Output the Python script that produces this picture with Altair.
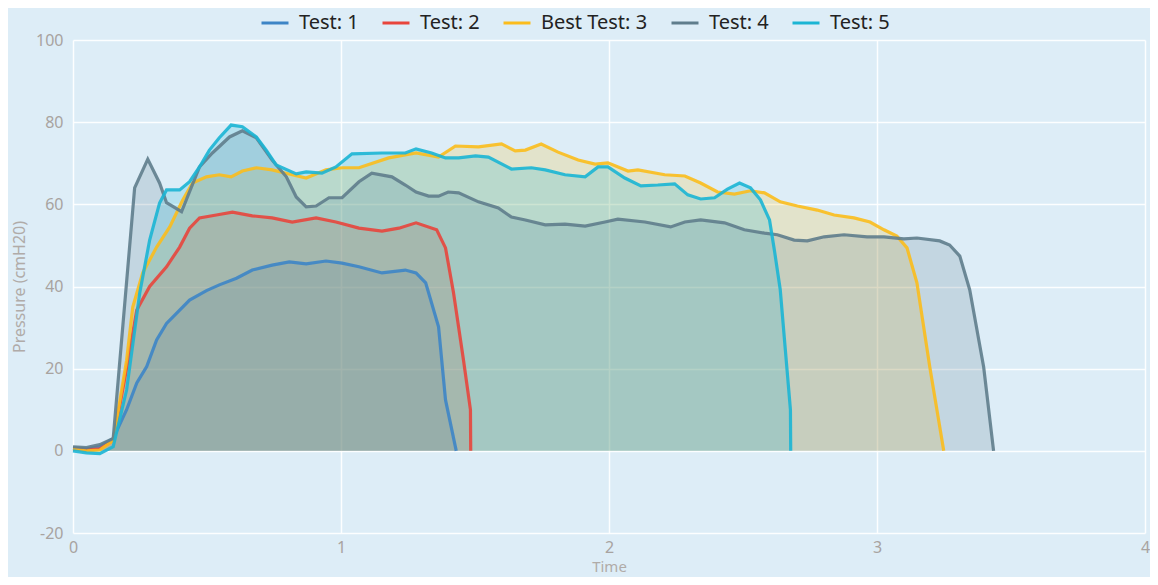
import altair as alt
import pandas as pd

names = ["Test: 1", "Test: 2", "Best Test: 3", "Test: 4", "Test: 5"]
colors = ["#3d85c6", "#e8453c", "#fbbc1c", "#5f7d8c", "#1bb5d4"]

t1 = [0, 0.05, 0.1, 0.15, 0.2, 0.238, 0.275, 0.312, 0.349, 0.387, 0.435, 0.498, 0.546, 0.61, 0.669, 0.743,
      0.807, 0.87, 0.944, 1.004, 1.067, 1.153, 1.24, 1.28, 1.316, 1.364, 1.39, 1.43]
v1 = [0.7, 0.5, 1.0, 3.0, 10, 16.5, 20.5, 27, 31, 33.5, 36.7, 39, 40.4, 42, 44, 45.2,
      46, 45.5, 46.2, 45.7, 44.8, 43.3, 44, 43.3, 40.9, 30.2, 12.4, 0]

t2 = [0, 0.05, 0.1, 0.15, 0.2, 0.238, 0.286, 0.349, 0.398, 0.435, 0.472, 0.535, 0.595, 0.669, 0.743, 0.818,
      0.907, 0.981, 1.067, 1.153, 1.216, 1.28, 1.357, 1.39, 1.42, 1.457, 1.483, 1.484]
v2 = [0.5, 0.3, 0.5, 2.5, 20, 34.3, 40, 44.8, 49.6, 54.2, 56.7, 57.4, 58.1, 57.2, 56.7, 55.7,
      56.7, 55.7, 54.2, 53.5, 54.2, 55.5, 53.8, 49.4, 38.4, 22.1, 10, 0]

t3 = [0, 0.05, 0.1, 0.15, 0.2, 0.223, 0.26, 0.312, 0.361, 0.409, 0.446, 0.498, 0.546, 0.59, 0.632, 0.684,
      0.743, 0.818, 0.87, 0.944, 1.004, 1.067, 1.178, 1.28, 1.364, 1.427, 1.513, 1.599, 1.65, 1.688, 1.747,
      1.81, 1.885, 1.948, 1.996, 2.071, 2.108, 2.208, 2.283, 2.342, 2.405, 2.468, 2.528, 2.58, 2.639, 2.703,
      2.777, 2.84, 2.914, 2.974, 3.026, 3.074, 3.112, 3.149, 3.197, 3.249]
v3 = [0.5, 0, 0.2, 2.5, 22, 35, 43.3, 49.6, 54.5, 61, 65.2, 66.7, 67.2, 66.7, 68.1, 68.9,
      68.4, 67.2, 66.4, 68.4, 68.9, 68.9, 71.3, 72.5, 71.5, 74.2, 74, 74.7, 73, 73.2, 74.7,
      72.7, 70.8, 69.8, 70.1, 68.1, 68.4, 67.2, 66.9, 65.2, 63, 62.5, 63.3, 62.8, 60.6, 59.6,
      58.6, 57.4, 56.7, 55.7, 53.8, 52.3, 49.4, 40.9, 20.4, 0]

t4 = [0, 0.05, 0.1, 0.15, 0.23, 0.279, 0.323, 0.349, 0.405, 0.472, 0.52, 0.584, 0.632, 0.684, 0.743, 0.796,
      0.833, 0.87, 0.907, 0.955, 1.004, 1.067, 1.115, 1.19, 1.24, 1.28, 1.327, 1.364, 1.40, 1.439, 1.513,
      1.587, 1.636, 1.688, 1.762, 1.836, 1.911, 1.985, 2.033, 2.134, 2.23, 2.283, 2.342, 2.431, 2.505, 2.58,
      2.628, 2.691, 2.74, 2.803, 2.877, 2.963, 3.026, 3.1, 3.149, 3.234, 3.271, 3.309, 3.346, 3.398, 3.435]
v4 = [1.0, 0.8, 1.5, 3, 64, 71, 65.2, 60.4, 58.2, 69.1, 72.5, 76.4, 77.9, 76.2, 70.8, 66.7,
      61.8, 59.4, 59.6, 61.6, 61.6, 65.5, 67.6, 66.7, 64.7, 63, 62, 62, 63, 62.8, 60.6,
      59.1, 56.9, 56.2, 55, 55.2, 54.7, 55.7, 56.4, 55.7, 54.5, 55.7, 56.2, 55.5, 53.8, 53,
      52.6, 51.3, 51.1, 52.1, 52.6, 52.1, 52.1, 51.6, 51.8, 51.1, 50.1, 47.4, 39.2, 20.4, 0]

t5 = [0, 0.05, 0.1, 0.15, 0.2, 0.249, 0.286, 0.323, 0.349, 0.398, 0.435, 0.472, 0.509, 0.546, 0.59, 0.632,
      0.684, 0.721, 0.758, 0.833, 0.87, 0.929, 0.981, 1.041, 1.153, 1.24, 1.28, 1.338, 1.39, 1.439, 1.502,
      1.55, 1.636, 1.71, 1.762, 1.836, 1.911, 1.959, 1.996, 2.059, 2.119, 2.182, 2.245, 2.294, 2.342, 2.394,
      2.442, 2.487, 2.528, 2.565, 2.599, 2.617, 2.639, 2.658, 2.677, 2.678]
v5 = [0, -0.5, -0.7, 1, 14.8, 38.4, 51.3, 60.3, 63.5, 63.5, 65.5, 69.1, 73.2, 76.2, 79.3, 78.9,
      76.4, 73.2, 69.6, 67.4, 67.9, 67.6, 69.1, 72.3, 72.5, 72.5, 73.5, 72.5, 71.3, 71.3, 71.8,
      71.5, 68.6, 68.9, 68.4, 67.2, 66.7, 69.1, 69.1, 66.4, 64.5, 64.7, 65, 62.3, 61.3, 61.6,
      63.7, 65.2, 64, 61.1, 56.2, 48.9, 39.2, 24.6, 10, 0]

x_ticks = [0, 1, 2, 3, 4]
y_ticks = [-20, 0, 20, 40, 60, 80, 100]

rows = []
for i, (ts, vs) in enumerate([(t1, v1), (t2, v2), (t3, v3), (t4, v4), (t5, v5)]):
    for k, (t, v) in enumerate(zip(ts, vs)):
        rows.append({"series": names[i], "order": i, "idx": k, "time": t, "pressure": v})
df = pd.DataFrame(rows)

font = "Noto Sans"
x_enc = alt.X("time:Q", scale=alt.Scale(domain=[0, 4], nice=False),
              axis=alt.Axis(values=x_ticks, title="Time", format="d", labelFlush=False))
y_enc = alt.Y("pressure:Q", scale=alt.Scale(domain=[-20, 100], nice=False), stack=None,
              axis=alt.Axis(values=y_ticks, title="Pressure (cmH20)",
                            labelExpr="toString(datum.value)"))

color_scale = alt.Scale(domain=names, range=colors)

areas = alt.Chart(df).mark_area(fillOpacity=0.2, interpolate="linear").encode(
    x=x_enc, y=y_enc, y2=alt.Y2(datum=0),
    color=alt.Color("series:N", scale=color_scale),
)

lines = alt.Chart(df).mark_line(strokeWidth=3.2, strokeOpacity=0.9, interpolate="linear").encode(
    x=x_enc, y=y_enc,
    color=alt.Color("series:N", scale=color_scale,
                    legend=alt.Legend(orient="none", direction="horizontal", title=None,
                                      legendX=187, legendY=-32,
                                      symbolType="stroke", symbolSize=729, symbolStrokeWidth=3,
                                      symbolOpacity=1,
                                      labelFontSize=20, labelFont=font, labelColor="#222222",
                                      columnPadding=17, labelOffset=9)),
    order="idx:Q",
)

chart = alt.layer(areas, lines).properties(
    width=1072, height=493,
    autosize=alt.AutoSizeParams(type="none"),
    padding={"left": 65, "top": 32, "right": 5, "bottom": 44},
    background="#ddedf7",
).configure_view(stroke=None, fill=None).configure_axis(
    grid=True, gridColor="#ffffff", gridWidth=1.5, gridOpacity=0.9,
    domain=False, ticks=False,
    labelFont=font, labelFontSize=16, labelColor="#a8a3a0",
    titleFont=font, titleFontSize=16, titleColor="#b0aba8", titleFontWeight="normal",
).configure_axisX(labelPadding=6, titlePadding=4, titleFontSize=15).configure_axisY(labelPadding=10, titlePadding=8)

chart.save("out.html", embed_options={"renderer": "svg", "actions": False})
